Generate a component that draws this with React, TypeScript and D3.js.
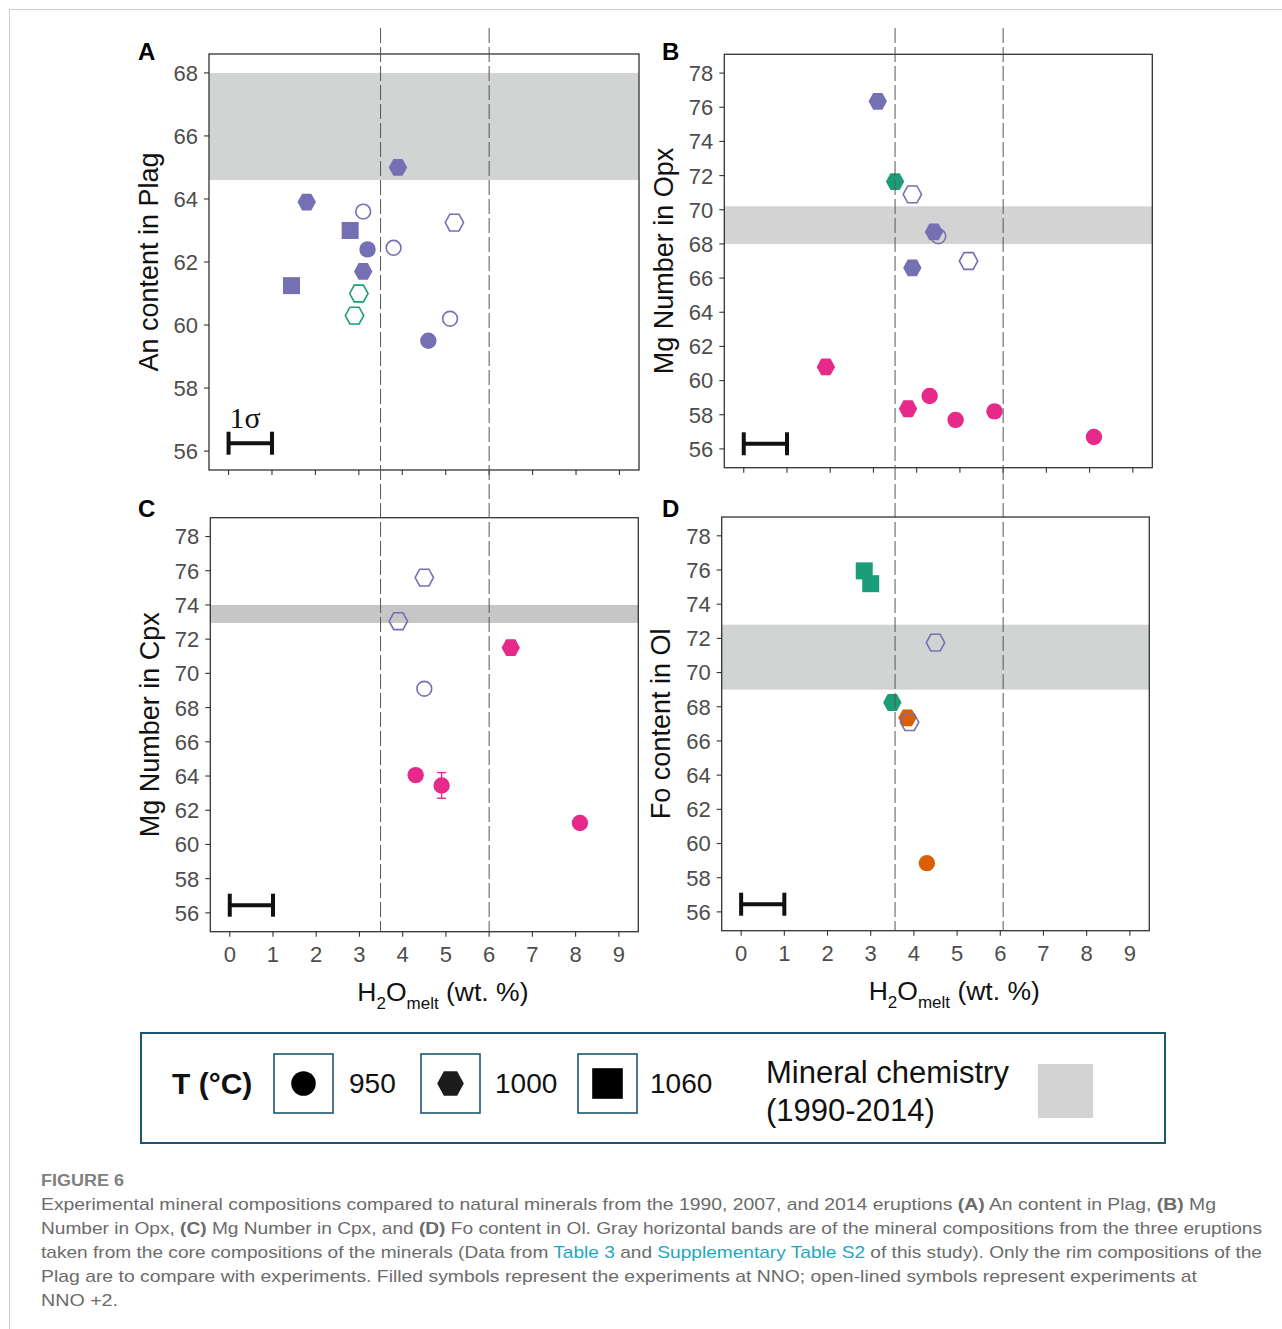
import React from 'react';
import * as d3 from 'd3';

// ---- data ----
type Pt = { h2o: number; val: number; temp: number; fo2: string; series: string };

const xTicks = [0, 1, 2, 3, 4, 5, 6, 7, 8, 9];
const plagTicks = [56, 58, 60, 62, 64, 66, 68];
const mgTicks = [56, 58, 60, 62, 64, 66, 68, 70, 72, 74, 76, 78];
const temps = [950, 1000, 1060];
const seriesIds = ['S1', 'S2', 'S3', 'S4'];

// An content in Plag
const plagPoints: Pt[] = [
  { h2o: 3.9, val: 65.0, temp: 1000, fo2: 'NNO', series: 'S3' },
  { h2o: 1.8, val: 63.9, temp: 1000, fo2: 'NNO', series: 'S3' },
  { h2o: 3.1, val: 63.6, temp: 950, fo2: 'NNO+2', series: 'S3' },
  { h2o: 2.8, val: 63.0, temp: 1060, fo2: 'NNO', series: 'S3' },
  { h2o: 5.2, val: 63.25, temp: 1000, fo2: 'NNO+2', series: 'S3' },
  { h2o: 3.2, val: 62.4, temp: 950, fo2: 'NNO', series: 'S3' },
  { h2o: 3.8, val: 62.45, temp: 950, fo2: 'NNO+2', series: 'S3' },
  { h2o: 3.1, val: 61.7, temp: 1000, fo2: 'NNO', series: 'S3' },
  { h2o: 1.45, val: 61.25, temp: 1060, fo2: 'NNO', series: 'S3' },
  { h2o: 3.0, val: 61.0, temp: 1000, fo2: 'NNO+2', series: 'S1' },
  { h2o: 2.9, val: 60.3, temp: 1000, fo2: 'NNO+2', series: 'S1' },
  { h2o: 5.1, val: 60.2, temp: 950, fo2: 'NNO+2', series: 'S3' },
  { h2o: 4.6, val: 59.5, temp: 950, fo2: 'NNO', series: 'S3' },
];

// Mg Number in Opx
const opxPoints: Pt[] = [
  { h2o: 3.1, val: 76.35, temp: 1000, fo2: 'NNO', series: 'S3' },
  { h2o: 3.5, val: 71.65, temp: 1000, fo2: 'NNO', series: 'S1' },
  { h2o: 3.9, val: 70.9, temp: 1000, fo2: 'NNO+2', series: 'S3' },
  { h2o: 4.4, val: 68.7, temp: 1000, fo2: 'NNO', series: 'S3' },
  { h2o: 4.5, val: 68.45, temp: 950, fo2: 'NNO+2', series: 'S3' },
  { h2o: 5.2, val: 67.0, temp: 1000, fo2: 'NNO+2', series: 'S3' },
  { h2o: 3.9, val: 66.6, temp: 1000, fo2: 'NNO', series: 'S3' },
  { h2o: 1.9, val: 60.8, temp: 1000, fo2: 'NNO', series: 'S4' },
  { h2o: 4.3, val: 59.1, temp: 950, fo2: 'NNO', series: 'S4' },
  { h2o: 3.8, val: 58.35, temp: 1000, fo2: 'NNO', series: 'S4' },
  { h2o: 4.9, val: 57.7, temp: 950, fo2: 'NNO', series: 'S4' },
  { h2o: 5.8, val: 58.2, temp: 950, fo2: 'NNO', series: 'S4' },
  { h2o: 8.1, val: 56.7, temp: 950, fo2: 'NNO', series: 'S4' },
];

// Mg Number in Cpx
const cpxPoints: Pt[] = [
  { h2o: 4.5, val: 75.6, temp: 1000, fo2: 'NNO+2', series: 'S3' },
  { h2o: 3.9, val: 73.05, temp: 1000, fo2: 'NNO+2', series: 'S3' },
  { h2o: 6.5, val: 71.5, temp: 1000, fo2: 'NNO', series: 'S4' },
  { h2o: 4.5, val: 69.1, temp: 950, fo2: 'NNO+2', series: 'S3' },
  { h2o: 4.3, val: 64.05, temp: 950, fo2: 'NNO', series: 'S4' },
  { h2o: 4.9, val: 63.45, temp: 950, fo2: 'NNO', series: 'S4' },
  { h2o: 8.1, val: 61.25, temp: 950, fo2: 'NNO', series: 'S4' },
];
const cpxErrors = [{ h2o: 4.9, val: 63.45, sd: 0.75, series: 'S4' }];

// Fo content in Ol
const olPoints: Pt[] = [
  { h2o: 2.85, val: 75.95, temp: 1060, fo2: 'NNO', series: 'S1' },
  { h2o: 3.0, val: 75.2, temp: 1060, fo2: 'NNO', series: 'S1' },
  { h2o: 4.5, val: 71.75, temp: 1000, fo2: 'NNO+2', series: 'S3' },
  { h2o: 3.5, val: 68.25, temp: 1000, fo2: 'NNO', series: 'S1' },
  { h2o: 3.85, val: 67.35, temp: 1000, fo2: 'NNO', series: 'S2' },
  { h2o: 3.9, val: 67.1, temp: 1000, fo2: 'NNO+2', series: 'S3' },
  { h2o: 4.3, val: 58.85, temp: 950, fo2: 'NNO', series: 'S2' },
];

// natural mineral chemistry bands (1990-2014)
const plagBand = [64.6, 68.0];
const opxBand = [68.0, 70.2];
const cpxBand = [72.95, 74.0];
const olBand = [69.0, 72.8];

// H2O range markers and 1 sigma bars
const h2oRange = [3.5, 6.0];
const sigmaSpan = [0, 1];
const sigmaLevel = { A: 56.25, B: 56.3, C: 56.45, D: 56.45 };

// ---- drawing ----
const FONT = '"Liberation Sans", Arial, Helvetica, sans-serif';
const color = d3.scaleOrdinal<string, string>().domain(seriesIds).range(d3.schemeDark2);

const hexPath = (w: number, h: number) =>
  `M${-w},0L${-w / 2},${-h}L${w / 2},${-h}L${w},0L${w / 2},${h}L${-w / 2},${h}Z`;

function Marker({ temp, fill, stroke, scale = 1, open = false }: any) {
  const sw = open ? 1.6 : 0;
  if (temp === 950) {
    return <circle r={(open ? 7.4 : 8.2) * scale} fill={open ? 'none' : fill} stroke={stroke} strokeWidth={sw} />;
  }
  if (temp === 1000) {
    return <path d={hexPath(9.2 * scale, 8.4 * scale)} fill={open ? 'none' : fill} stroke={stroke} strokeWidth={sw} />;
  }
  const s = 8.5 * scale;
  return <rect x={-s} y={-s} width={2 * s} height={2 * s} fill={open ? 'none' : fill} stroke={stroke} strokeWidth={sw} />;
}

type Box = { left: number; right: number; top: number; bottom: number };

function Panel({ box, yDomain, yTicks, band, bandFill, points, letter, letterPos, yTitle, xLabels, sigmaY, errors, sigmaText }: any) {
  const b: Box = box;
  const x = d3.scaleLinear().domain([-0.45, 9.45]).range([b.left, b.right]);
  const y = d3.scaleLinear().domain(yDomain).range([b.bottom, b.top]);
  const midY = (b.top + b.bottom) / 2;
  return (
    <g>
      <rect x={b.left} y={y(band[1])} width={b.right - b.left} height={y(band[0]) - y(band[1])} fill={bandFill} />
      {(points as Pt[]).map((d, i) => {
        const c = color(d.series);
        const open = d.fo2 === 'NNO+2';
        return (
          <g key={i} transform={`translate(${x(d.h2o)},${y(d.val)})`}>
            <Marker temp={d.temp} fill={c} stroke={open ? c : 'none'} open={open} />
          </g>
        );
      })}
      {(errors || []).map((e: any, i: number) => (
        <g key={'e' + i} stroke={color(e.series)} strokeWidth={1.4}>
          <line x1={x(e.h2o)} x2={x(e.h2o)} y1={y(e.val - e.sd)} y2={y(e.val + e.sd)} />
          <line x1={x(e.h2o) - 4.5} x2={x(e.h2o) + 4.5} y1={y(e.val - e.sd)} y2={y(e.val - e.sd)} />
          <line x1={x(e.h2o) - 4.5} x2={x(e.h2o) + 4.5} y1={y(e.val + e.sd)} y2={y(e.val + e.sd)} />
        </g>
      ))}
      {/* 1 sigma reference bar */}
      <g stroke="#111" strokeWidth={4}>
        <line x1={x(sigmaSpan[0])} x2={x(sigmaSpan[1])} y1={y(sigmaY)} y2={y(sigmaY)} />
        <line x1={x(sigmaSpan[0])} x2={x(sigmaSpan[0])} y1={y(sigmaY) - 11.5} y2={y(sigmaY) + 11.5} />
        <line x1={x(sigmaSpan[1])} x2={x(sigmaSpan[1])} y1={y(sigmaY) - 11.5} y2={y(sigmaY) + 11.5} />
      </g>
      {sigmaText && (
        <text x={x(sigmaSpan[0]) + 1} y={y(sigmaY) - 15} fontFamily='"Liberation Serif", "Times New Roman", serif' fontSize={30} fill="#111">
          1σ
        </text>
      )}
      <rect x={b.left} y={b.top} width={b.right - b.left} height={b.bottom - b.top} fill="none" stroke="#333" strokeWidth={1.3} />
      {/* y axis */}
      {(yTicks as number[]).map((t) => (
        <g key={t}>
          <line x1={b.left - 5} x2={b.left} y1={y(t)} y2={y(t)} stroke="#333" strokeWidth={1.1} />
          <text x={b.left - 11} y={y(t)} dy="0.36em" textAnchor="end" fontFamily={FONT} fontSize={22} fill="#4d4d4d">
            {t}
          </text>
        </g>
      ))}
      {/* x axis */}
      {xTicks.map((t) => (
        <g key={t}>
          <line x1={x(t)} x2={x(t)} y1={b.bottom} y2={b.bottom + 5} stroke="#333" strokeWidth={1.1} />
          {xLabels && (
            <text x={x(t)} y={b.bottom + 30} textAnchor="middle" fontFamily={FONT} fontSize={22} fill="#4d4d4d">
              {t}
            </text>
          )}
        </g>
      ))}
      {xLabels && (
        <text x={b.left + 147} y={b.bottom + 69} fontFamily={FONT} fontSize={26.5} fill="#111">
          H<tspan fontSize={17} dy={8}>2</tspan>
          <tspan dy={-8}>O</tspan>
          <tspan fontSize={17} dy={8}>melt</tspan>
          <tspan dy={-8}> (wt. %)</tspan>
        </text>
      )}
      <text transform={`translate(${b.left - 51.5},${midY}) rotate(-90)`} textAnchor="middle" fontFamily={FONT} fontSize={27} fill="#111">
        {yTitle}
      </text>
      <text x={letterPos[0]} y={letterPos[1]} fontFamily={FONT} fontWeight="bold" fontSize={24} fill="#000">
        {letter}
      </text>
    </g>
  );
}

const boxA: Box = { left: 209, right: 639, top: 54, bottom: 470 };
const boxB: Box = { left: 724.3, right: 1152.3, top: 54.3, bottom: 467.7 };
const boxC: Box = { left: 210.3, right: 638.3, top: 517.7, bottom: 931.7 };
const boxD: Box = { left: 721.7, right: 1149.3, top: 517, bottom: 930.7 };

export default function App() {
  const xLeft = d3.scaleLinear().domain([-0.45, 9.45]).range([boxA.left, boxA.right]);
  const xRight = d3.scaleLinear().domain([-0.45, 9.45]).range([boxB.left, boxB.right]);
  const legendX = [274, 421, 578];
  const legendLabelX = [349, 495, 650];
  return (
    <svg width={1282} height={1329} style={{ position: 'absolute', left: 0, top: 0, display: 'block' }}>
      <rect x={0} y={0} width={1282} height={1329} fill="#fff" />
      <rect x={9.5} y={9.5} width={1400} height={1400} fill="none" stroke="#cfcfcf" strokeWidth={1} />

      <Panel box={boxA} yDomain={[55.4, 68.6]} yTicks={plagTicks} band={plagBand} bandFill="#d2d3d3" points={plagPoints}
        letter="A" letterPos={[138, 60]} yTitle="An content in Plag" xLabels={false} sigmaY={sigmaLevel.A} sigmaText />
      <Panel box={boxB} yDomain={[54.9, 79.1]} yTicks={mgTicks} band={opxBand} bandFill="#d3d3d3" points={opxPoints}
        letter="B" letterPos={[662, 60]} yTitle="Mg Number in Opx" xLabels={false} sigmaY={sigmaLevel.B} />
      <Panel box={boxC} yDomain={[54.9, 79.1]} yTicks={mgTicks} band={cpxBand} bandFill="#c6c6c6" points={cpxPoints}
        letter="C" letterPos={[138, 517]} yTitle="Mg Number in Cpx" xLabels sigmaY={sigmaLevel.C} errors={cpxErrors} />
      <Panel box={boxD} yDomain={[54.9, 79.1]} yTicks={mgTicks} band={olBand} bandFill="#d2d3d3" points={olPoints}
        letter="D" letterPos={[662, 517]} yTitle="Fo content in Ol" xLabels sigmaY={sigmaLevel.D} />

      {/* H2O range markers spanning both rows */}
      {h2oRange.map((v, i) => (
        <g key={i} stroke="#555" strokeWidth={1} strokeDasharray="15 4">
          <line x1={xLeft(v)} x2={xLeft(v)} y1={28} y2={boxC.bottom} />
          <line x1={xRight(v)} x2={xRight(v)} y1={28} y2={boxD.bottom} />
        </g>
      ))}

      {/* legend */}
      <g fontFamily={FONT}>
        <rect x={141} y={1033} width={1024} height={110} fill="none" stroke="#1d5673" strokeWidth={2} />
        <text x={172} y={1094} fontSize={30} fontWeight="bold" fill="#111">T (°C)</text>
        {temps.map((t, i) => (
          <g key={t}>
            <rect x={legendX[i]} y={1054} width={59} height={59} fill="none" stroke="#1d5673" strokeWidth={1.6} />
            <g transform={`translate(${legendX[i] + 29.5},${1083.5})`}>
              <Marker temp={t} fill={t === 1000 ? '#1c1c1c' : '#000'} stroke="none" scale={t === 950 ? 1.5 : t === 1000 ? 1.45 : 1.8} />
            </g>
            <text x={legendLabelX[i]} y={1093} fontSize={28} fill="#111">{t}</text>
          </g>
        ))}
        <text x={766} y={1083} fontSize={31} fill="#111">Mineral chemistry</text>
        <text x={766} y={1121} fontSize={31} fill="#111">(1990-2014)</text>
        <rect x={1038} y={1064} width={55} height={54} fill="#d3d3d3" />
      </g>

      {/* caption */}
      <g fontFamily={FONT} fill="#6b6b6b" fontSize={17}>
        <text x={41} y={1186} fontSize={16} fontWeight="bold" fill="#808080" textLength={83} lengthAdjust="spacingAndGlyphs">FIGURE 6</text>
        <text x={41} y={1210} textLength={1175} lengthAdjust="spacingAndGlyphs">
          Experimental mineral compositions compared to natural minerals from the 1990, 2007, and 2014 eruptions <tspan fontWeight="bold">(A)</tspan> An content in Plag, <tspan fontWeight="bold">(B)</tspan> Mg
        </text>
        <text x={41} y={1234} textLength={1221} lengthAdjust="spacingAndGlyphs">
          Number in Opx, <tspan fontWeight="bold">(C)</tspan> Mg Number in Cpx, and <tspan fontWeight="bold">(D)</tspan> Fo content in Ol. Gray horizontal bands are of the mineral compositions from the three eruptions
        </text>
        <text x={41} y={1258} textLength={1221} lengthAdjust="spacingAndGlyphs">
          taken from the core compositions of the minerals (Data from <tspan fill="#1fa8bd">Table 3</tspan> and <tspan fill="#1fa8bd">Supplementary Table S2</tspan> of this study). Only the rim compositions of the
        </text>
        <text x={41} y={1282} textLength={1156} lengthAdjust="spacingAndGlyphs">
          Plag are to compare with experiments. Filled symbols represent the experiments at NNO; open-lined symbols represent experiments at
        </text>
        <text x={41} y={1306} textLength={77} lengthAdjust="spacingAndGlyphs">NNO +2.</text>
      </g>
    </svg>
  );
}
